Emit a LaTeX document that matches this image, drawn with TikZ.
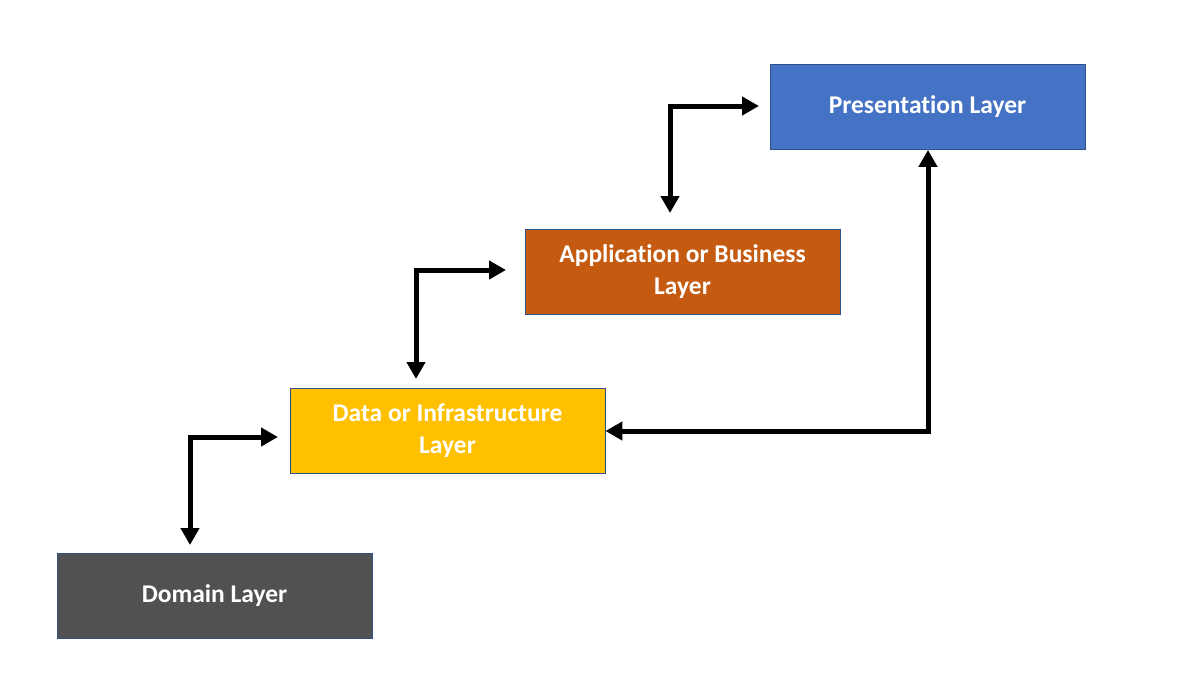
\documentclass[tikz,border=0pt]{standalone}
\usepackage{fontspec}
\setmainfont[Ligatures=NoCommon]{Carlito}
\usetikzlibrary{arrows.meta}
\definecolor{presblue}{HTML}{4472C4}
\definecolor{apporange}{HTML}{C55A11}
\definecolor{datayellow}{HTML}{FFC000}
\definecolor{domgray}{HTML}{515151}
\definecolor{edgeblue}{HTML}{2F528F}
\tikzset{
  layer/.style={draw=edgeblue, line width=0.8pt, minimum width=315pt, minimum height=85pt,
    text=white, align=center, font=\fontsize{25.5}{32}\selectfont\bfseries, inner sep=0pt},
  link/.style={line width=5pt, {Triangle[length=17pt,width=18pt]}-{Triangle[length=17pt,width=18pt]}}
}
\begin{document}
\begin{tikzpicture}[x=1pt, y=-1pt]
	\useasboundingbox (0,0) rectangle (1203,697);
	\node[layer, fill=presblue] (pres) at (927.5,107) {Presentation Layer};
	\node[layer, fill=apporange] (app) at (682.5,271.5) {Application or Business\\Layer};
	\node[layer, fill=datayellow] (data) at (447.5,430.5) {Data or Infrastructure\\Layer};
	\node[layer, fill=domgray] (dom) at (214.5,596) {Domain Layer};
	% free ends of the elbow links
	\coordinate (a1) at (670,213);
	\coordinate (b1) at (759,106);
	\coordinate (a2) at (416,379);
	\coordinate (b2) at (506,270);
	\coordinate (a3) at (190,545);
	\coordinate (b3) at (278,437);
	\draw[link] (a1) |- (b1);
	\draw[link] (a2) |- (b2);
	\draw[link] (a3) |- (b3);
	\draw[link] (data.east |- 0,431) -| (pres.south -| 928,0);
\end{tikzpicture}
\end{document}
